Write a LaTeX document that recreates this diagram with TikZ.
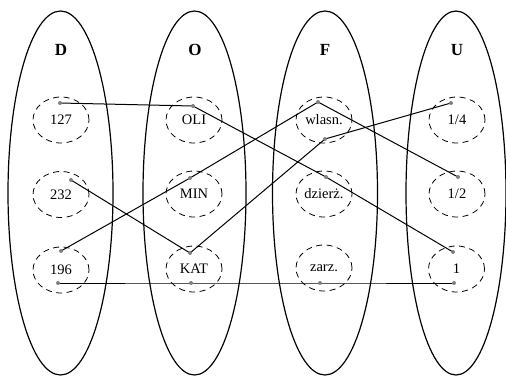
\documentclass[tikz,border=0pt]{standalone}
\usepackage{fontspec}
\setmainfont{Liberation Serif}
\usetikzlibrary{shapes.geometric}
\begin{document}
\begin{tikzpicture}[x=1pt,y=-1pt,
  setbox/.style={draw, ellipse, line width=1.2pt, minimum width=105pt, minimum height=364pt, inner sep=0pt},
  elem/.style={draw, ellipse, dash pattern=on 6pt off 4.5pt, line width=0.8pt, minimum width=56pt, minimum height=46pt, inner sep=0pt, font=\fontsize{14.5}{14.5}\selectfont},
  title/.style={font=\fontsize{17}{17}\selectfont\bfseries},
  pt/.style={circle, fill=gray, inner sep=0pt, minimum size=4pt},
  link/.style={line width=1pt}]
\useasboundingbox (0,0) rectangle (506,376);
% sets
\node[setbox] (D) at (60.5,193) {};
\node[setbox, minimum width=103pt] (O) at (194.5,193) {};
\node[setbox] (F) at (325,193) {};
\node[setbox, minimum width=100pt] (U) at (456,193) {};
\node[title] (tD) at (61,50) {D};
\node[title] (tO) at (195,50) {O};
\node[title] (tF) at (325,50) {F};
\node[title] (tU) at (457,50) {U};
% elements
\node[elem] (e127) at (61,120) {127};
\node[elem] (e232) at (61,194.5) {232};
\node[elem] (e196) at (61,270) {196};
\node[elem] (oli) at (194,120) {OLI};
\node[elem] (min) at (194,194) {MIN};
\node[elem] (kat) at (194,269) {KAT};
\node[elem] (wl) at (324,120) {wlasn.};
\node[elem] (dz) at (324,194) {dzierż.};
\node[elem] (za) at (324,268) {zarz.};
\node[elem] (q) at (457,120) {1/4};
\node[elem] (h) at (457,194) {1/2};
\node[elem] (one) at (456.5,269) {1};
% connection points
\coordinate (p127) at (60,103);
\coordinate (poli) at (193,106);
\coordinate (p232) at (71,180);
\coordinate (pmin) at (190,178);
\coordinate (p196a) at (61,251);
\coordinate (p196b) at (58,283);
\coordinate (pkata) at (190,253);
\coordinate (pkatb) at (191,283);
\coordinate (pwla) at (318,102);
\coordinate (pwlb) at (325,139);
\coordinate (pdz) at (326,177);
\coordinate (pza) at (320,283);
\coordinate (pq) at (451,103);
\coordinate (ph) at (458,177);
\coordinate (ponea) at (453,252);
\coordinate (poneb) at (454,283);
% links
\draw[link] (p127) -- (poli) -- (pdz) -- (ponea);
\draw[link] (p232) -- (pkata) -- (pwlb) -- (pq);
\draw[link] (p196a) -- (pmin) -- (pwla) -- (ph);
\draw[link] (p196b) -- (pkatb) -- (pza) -- (poneb);
\foreach \p in {p127,poli,p232,pmin,p196a,p196b,pkata,pkatb,pwla,pwlb,pdz,pza,pq,ph,ponea,poneb}
  \node[pt] at (\p) {};
\end{tikzpicture}
\end{document}
